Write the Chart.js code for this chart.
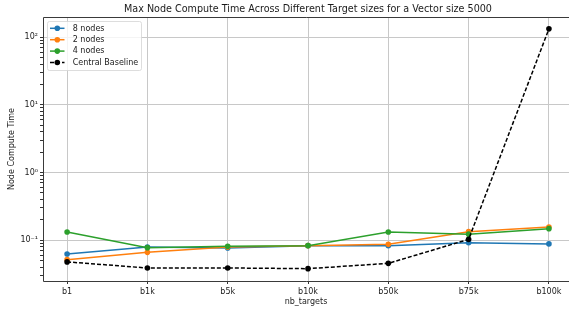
<!DOCTYPE html>
<html>
<head>
<meta charset="utf-8">
<script src="https://cdn.jsdelivr.net/npm/chart.js@4.4.1/dist/chart.umd.min.js"></script>
<style>
  html, body { margin: 0; padding: 0; background: #fff; overflow: hidden; }
  #wrap { width: 569px; height: 309px; }
</style>
</head>
<body>
<div id="wrap"><canvas id="chart" width="569" height="309"></canvas></div>
<script>
// ---------------------------------------------------------------------
// Data
// ---------------------------------------------------------------------
const TARGETS  = ['b1', 'b1k', 'b5k', 'b10k', 'b50k', 'b75k', 'b100k'];
const NODES_8  = [0.0625, 0.079, 0.0767, 0.083, 0.083, 0.0918, 0.088];
const NODES_2  = [0.0515, 0.066, 0.079, 0.083, 0.0867, 0.1335, 0.1567];
const NODES_4  = [0.132, 0.0775, 0.081, 0.083, 0.132, 0.1226, 0.148];
const BASELINE = [0.0477, 0.0388, 0.0388, 0.0379, 0.0454, 0.1027, 133];

const TITLE  = 'Max Node Compute Time Across Different Target sizes for a Vector size 5000';
const FONT   = '"DejaVu Sans", sans-serif';
const TXT    = '#1a1a1a';
const GRID   = '#c8c8c8';

const SUP = { '-': '⁻', '0': '⁰', '1': '¹', '2': '²', '3': '³' };
const supStr = n => String(n).split('').map(c => SUP[c]).join('');

const pts = arr => arr.map((v, i) => ({ x: i, y: v }));

const series = [
  { label: '8 nodes',          data: NODES_8,  color: '#1f77b4', dash: [],     order: 3 },
  { label: '2 nodes',          data: NODES_2,  color: '#ff7f0e', dash: [],     order: 2 },
  { label: '4 nodes',          data: NODES_4,  color: '#2ca02c', dash: [],     order: 1 },
  { label: 'Central Baseline', data: BASELINE, color: '#000000', dash: [4, 2], order: 0 },
];

// ---------------------------------------------------------------------
// Plugin: title, spines, legend inside the axes
// ---------------------------------------------------------------------
const decorPlugin = {
  id: 'decor',
  beforeDraw(chart) {
    const ctx = chart.ctx;
    ctx.save();
    ctx.fillStyle = '#fff';
    ctx.fillRect(0, 0, chart.width, chart.height);
    ctx.restore();
  },
  afterDatasetsDraw(chart) {
    const ctx = chart.ctx;
    const a = chart.chartArea;
    ctx.save();

    // spines (left, bottom, top)
    ctx.strokeStyle = '#3a3a3a';
    ctx.lineWidth = 1;
    ctx.beginPath();
    ctx.moveTo(a.left + 0.5, a.top + 0.5);
    ctx.lineTo(a.left + 0.5, a.bottom + 0.5);
    ctx.lineTo(a.right, a.bottom + 0.5);
    ctx.moveTo(a.left + 0.5, a.top + 0.5);
    ctx.lineTo(a.right, a.top + 0.5);
    ctx.stroke();

    // title
    ctx.fillStyle = TXT;
    ctx.font = '9.6px ' + FONT;
    ctx.textAlign = 'center';
    ctx.textBaseline = 'middle';
    ctx.fillText(TITLE, 308, 9.5);

    // legend
    const bx = 47, by = 21, bw = 94, bh = 49;
    ctx.fillStyle = 'rgba(255,255,255,0.8)';
    ctx.strokeStyle = '#d4d4d4';
    ctx.lineWidth = 0.8;
    ctx.beginPath();
    ctx.roundRect(bx + 0.5, by + 0.5, bw, bh, 2);
    ctx.fill();
    ctx.stroke();

    ctx.font = '8px ' + FONT;
    ctx.textAlign = 'left';
    ctx.textBaseline = 'middle';
    series.forEach((s, i) => {
      const y = 28.3 + i * 11.4;
      ctx.strokeStyle = s.color;
      ctx.lineWidth = 1.5;
      ctx.setLineDash(s.dash);
      ctx.beginPath();
      ctx.moveTo(50, y);
      ctx.lineTo(64.5, y);
      ctx.stroke();
      ctx.setLineDash([]);
      ctx.fillStyle = s.color;
      ctx.beginPath();
      ctx.arc(57.3, y, 2.8, 0, Math.PI * 2);
      ctx.fill();
      ctx.fillStyle = TXT;
      ctx.fillText(s.label, 72.7, y + 0.3);
    });
    ctx.restore();
  }
};

// ---------------------------------------------------------------------
// Chart
// ---------------------------------------------------------------------
new Chart(document.getElementById('chart').getContext('2d'), {
  type: 'line',
  data: {
    datasets: series.map(s => ({
      label: s.label,
      data: pts(s.data),
      borderColor: s.color,
      backgroundColor: s.color,
      borderWidth: 1.5,
      borderDash: s.dash,
      pointRadius: 2.8,
      pointHoverRadius: 2.8,
      pointBorderWidth: 0,
      pointBackgroundColor: s.color,
      tension: 0,
      fill: false,
      order: s.order,
    }))
  },
  options: {
    responsive: false,
    animation: false,
    layout: { autoPadding: false, padding: { top: 17, left: 0, right: 0, bottom: 0 } },
    plugins: {
      legend: { display: false },
      title: { display: false },
      tooltip: { enabled: false },
    },
    scales: {
      x: {
        type: 'linear',
        min: -0.3,
        max: 6.25,
        afterBuildTicks: sc => { sc.ticks = TARGETS.map((_, i) => ({ value: i })); },
        afterFit: sc => { sc.height = 28; sc.paddingLeft = 0; sc.paddingRight = 0; },
        grid: { color: GRID, lineWidth: 1, tickColor: '#333', tickLength: 3 },
        border: { display: false },
        ticks: {
          autoSkip: false,
          maxRotation: 0,
          padding: 3.5,
          color: TXT,
          font: { family: FONT, size: 8 },
          callback: v => TARGETS[v] ?? '',
        },
        title: {
          display: true,
          text: 'nb_targets',
          color: TXT,
          font: { family: FONT, size: 8 },
          padding: { top: 0, bottom: 2.5 },
        },
      },
      y: {
        type: 'logarithmic',
        min: 0.0249,
        max: 199,
        afterBuildTicks: sc => {
          const t = [];
          for (let e = -2; e <= 2; e++) {
            for (let m = 1; m <= 9; m++) {
              const v = m * Math.pow(10, e);
              if (v >= sc.min && v <= sc.max) t.push({ value: v, major: m === 1 });
            }
          }
          sc.ticks = t;
        },
        afterFit: sc => { sc.width = 43; sc.paddingTop = 0; sc.paddingBottom = 0; },
        grid: {
          lineWidth: 1,
          tickLength: 3,
          color: c => (c.tick && c.tick.major) ? GRID : 'rgba(0,0,0,0)',
          tickColor: '#333',
        },
        border: { display: false },
        ticks: {
          autoSkip: false,
          padding: 2,
          color: TXT,
          font: { family: FONT, size: 8 },
          callback: v => {
            const e = Math.log10(v);
            return Math.abs(e - Math.round(e)) < 1e-9 ? '10' + supStr(Math.round(e)) : '';
          },
        },
        title: {
          display: true,
          text: 'Node Compute Time',
          color: TXT,
          font: { family: FONT, size: 8 },
          padding: { top: 7.2, bottom: 0 },
        },
      },
    },
  },
  plugins: [decorPlugin],
});
</script>
</body>
</html>
